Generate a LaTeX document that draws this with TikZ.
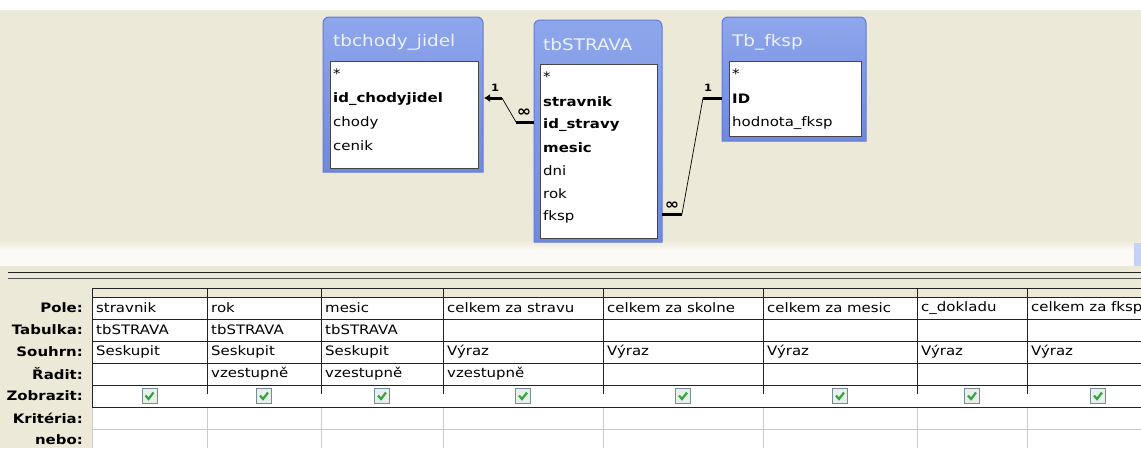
\documentclass[tikz,border=0pt]{standalone}
\usepackage{fontspec}
\setmainfont[FakeStretch=1.15]{DejaVu Sans}
\usetikzlibrary{arrows.meta, positioning}
\definecolor{xpbeige}{RGB}{236,233,216}
\definecolor{panelwhite}{RGB}{251,250,246}
\definecolor{tabletop}{RGB}{142,166,235}
\definecolor{tablebottom}{RGB}{112,137,222}
\definecolor{tableedge}{RGB}{98,122,212}
\definecolor{titletext}{RGB}{236,241,255}
\definecolor{innerline}{RGB}{70,70,70}
\definecolor{gridline}{RGB}{35,35,35}
\definecolor{gridlight}{RGB}{205,205,200}
\definecolor{checkgreen}{RGB}{50,165,60}
\definecolor{checkfill}{RGB}{232,240,236}
\definecolor{checkedge}{RGB}{120,140,150}
\definecolor{scrollblue}{RGB}{196,210,248}
\tikzstyle{title} = [anchor=west, inner sep=0, text=titletext, font=\fontsize{16}{18}\selectfont]
\tikzstyle{field} = [anchor=west, inner sep=0, font=\fontsize{13}{15}\selectfont]
\tikzstyle{keyfield} = [field, font=\fontsize{13}{15}\selectfont\bfseries]
\tikzstyle{tableframe} = [top color=tabletop, bottom color=tablebottom, draw=tableedge, line width=1pt]
\tikzstyle{fieldlist} = [fill=white, draw=innerline, line width=0.8pt]
\tikzstyle{linkend} = [line width=3pt]
\tikzstyle{linkslope} = [line width=0.7pt]
\tikzstyle{degree} = [inner sep=0, font=\fontsize{10}{10}\selectfont\bfseries]
\tikzstyle{many} = [inner sep=0, font=\fontsize{15}{15}\selectfont\bfseries]
\tikzstyle{rowlabel} = [anchor=east, inner sep=0, font=\fontsize{13}{15}\selectfont\bfseries]
\tikzstyle{cell} = [anchor=west, inner sep=0, font=\fontsize{13}{15}\selectfont]
\tikzstyle{dark} = [draw=gridline, line width=1pt]
\tikzstyle{light} = [draw=gridlight, line width=0.8pt]
\tikzstyle{checkbox} = [draw=checkedge, fill=checkfill, minimum size=15pt, inner sep=0, line width=0.8pt,
                        path picture={\draw[checkgreen, line width=2.2pt]
                          ([shift={(-4pt,0.5pt)}]path picture bounding box.center) --
                          ([shift={(-1pt,-3pt)}]path picture bounding box.center) --
                          ([shift={(4pt,3.5pt)}]path picture bounding box.center);}]

\begin{document}
\begin{tikzpicture}[x=1pt, y=-1pt]
				\useasboundingbox (0, 0) rectangle (1141, 448);

				% background
				\fill[white] (0, 0) rectangle (1141, 10);
				\fill[xpbeige] (0, 10) rectangle (1141, 241);
				\shade[top color=xpbeige, bottom color=panelwhite] (0, 240) rectangle (1141, 250);
				\fill[panelwhite] (0, 250) rectangle (1141, 266);
				\fill[xpbeige] (0, 266) rectangle (1141, 448);
				\fill[scrollblue] (1134, 243) rectangle (1141, 266);
				\draw[gridline, line width=1.5pt] (8, 272.5) -- (1141, 272.5);
				\draw[gridline!80!white, line width=1.5pt] (8, 278.5) -- (1141, 278.5);

				% tbchody_jidel
				\path[tableframe] (323, 172) [rounded corners=6pt] -- (323, 17) -- (483, 17) [sharp corners] -- (483, 172) -- cycle;
				\node (ChodyTitle) [title] at (333, 42) {tbchody\_jidel};
				\path[fieldlist] (330, 61) rectangle (478, 168);
				\node (ChodyStar) [field] at (333, 74) {*};
				\node (ChodyId) [keyfield] at (333, 99) {id\_chodyjidel};
				\node (ChodyChody) [field] at (333, 123) {chody};
				\node (ChodyCenik) [field] at (333, 146) {cenik};

				% tbSTRAVA
				\path[tableframe] (534, 242) [rounded corners=6pt] -- (534, 20) -- (662, 20) [sharp corners] -- (662, 242) -- cycle;
				\node (StravaTitle) [title] at (543, 45) {tbSTRAVA};
				\path[fieldlist] (540, 64) rectangle (657, 238);
				\node (StravaStar) [field] at (543, 77) {*};
				\node (StravaStravnik) [keyfield] at (543, 102) {stravnik};
				\node (StravaId) [keyfield] at (543, 125) {id\_stravy};
				\node (StravaMesic) [keyfield] at (543, 148) {mesic};
				\node (StravaDni) [field] at (543, 171) {dni};
				\node (StravaRok) [field] at (543, 194) {rok};
				\node (StravaFksp) [field] at (543, 217) {fksp};

				% Tb_fksp
				\path[tableframe] (722, 141) [rounded corners=6pt] -- (722, 17) -- (866, 17) [sharp corners] -- (866, 141) -- cycle;
				\node (FkspTitle) [title] at (732, 42) {Tb\_fksp};
				\path[fieldlist] (729, 61) rectangle (861, 136);
				\node (FkspStar) [field] at (732, 74) {*};
				\node (FkspId) [keyfield] at (732, 99) {ID};
				\node (FkspHodnota) [field] at (732, 123) {hodnota\_fksp};

				% tbSTRAVA -> tbchody_jidel
				\coordinate (ChodyKey) at (484, 98);
				\coordinate (ChodyBend) at (502, 98);
				\coordinate (StravaBend) at (516, 122);
				\coordinate (StravaKey) at (534, 122);
				\draw[linkend, -{Latex[length=6pt, width=8pt]}] (ChodyBend) -- (ChodyKey);
				\draw[linkslope] (ChodyBend) -- (StravaBend);
				\draw[linkend] (StravaBend) -- (StravaKey);
				\node (ChodyOne) [degree] at (495, 88) {1};
				\node (StravaMany) [many] at (524, 113) {∞};

				% tbSTRAVA -> Tb_fksp
				\coordinate (FkspKey) at (722, 98);
				\coordinate (FkspBend) at (703, 98);
				\coordinate (StravaFkspBend) at (682, 214);
				\coordinate (StravaFkspKey) at (662, 214);
				\draw[linkend] (FkspBend) -- (FkspKey);
				\draw[linkslope] (FkspBend) -- (StravaFkspBend);
				\draw[linkend] (StravaFkspBend) -- (StravaFkspKey);
				\node (FkspOne) [degree] at (708, 88) {1};
				\node (FkspMany) [many] at (672, 206) {∞};

				% query grid
				\fill[white] (92, 297) rectangle (1141, 448);
				\draw[light] (92, 429) -- (1141, 429);
				\draw[light] (92, 407) -- (92, 448);
				\draw[light] (207, 407) -- (207, 448);
				\draw[light] (321, 407) -- (321, 448);
				\draw[light] (443, 407) -- (443, 448);
				\draw[light] (603, 407) -- (603, 448);
				\draw[light] (763, 407) -- (763, 448);
				\draw[light] (917, 407) -- (917, 448);
				\draw[light] (1027, 407) -- (1027, 448);
				\draw[dark] (92, 288) -- (1141, 288);
				\draw[dark] (92, 297) -- (1141, 297);
				\draw[dark] (92, 319) -- (1141, 319);
				\draw[dark] (92, 341) -- (1141, 341);
				\draw[dark] (92, 363) -- (1141, 363);
				\draw[dark] (92, 385) -- (1141, 385);
				\draw[dark] (92, 407) -- (1141, 407);
				\draw[dark] (92, 288) -- (92, 407);
				\draw[dark] (207, 288) -- (207, 394);
				\draw[dark] (321, 288) -- (321, 394);
				\draw[dark] (443, 288) -- (443, 394);
				\draw[dark] (603, 288) -- (603, 394);
				\draw[dark] (763, 288) -- (763, 394);
				\draw[dark] (917, 288) -- (917, 394);
				\draw[dark] (1027, 288) -- (1027, 394);

				% row labels
				\node (Pole) [rowlabel] at (83, 308) {Pole:};
				\node (Tabulka) [rowlabel] at (83, 330) {Tabulka:};
				\node (Souhrn) [rowlabel] at (83, 352) {Souhrn:};
				\node (Radit) [rowlabel] at (83, 374) {Řadit:};
				\node (Zobrazit) [rowlabel] at (83, 396) {Zobrazit:};
				\node (Kriteria) [rowlabel] at (83, 418) {Kritéria:};
				\node (Nebo) [rowlabel] at (83, 440) {nebo:};

				% stravnik
				\node (StravnikPole) [cell] at (96, 308) {stravnik};
				\node (StravnikTab) [cell] at (96, 330) {tbSTRAVA};
				\node (StravnikSouhrn) [cell] at (96, 352) {Seskupit};
				\node (StravnikShow) [checkbox] at (149.5, 396) {};

				% rok
				\node (RokPole) [cell] at (211, 308) {rok};
				\node (RokTab) [cell] at (211, 330) {tbSTRAVA};
				\node (RokSouhrn) [cell] at (211, 352) {Seskupit};
				\node (RokRadit) [cell] at (211, 374) {vzestupně};
				\node (RokShow) [checkbox] at (264, 396) {};

				% mesic
				\node (MesicPole) [cell] at (325, 308) {mesic};
				\node (MesicTab) [cell] at (325, 330) {tbSTRAVA};
				\node (MesicSouhrn) [cell] at (325, 352) {Seskupit};
				\node (MesicRadit) [cell] at (325, 374) {vzestupně};
				\node (MesicShow) [checkbox] at (382, 396) {};

				% celkem za stravu
				\begin{scope}
					\clip (443, 297) rectangle (599, 319);
					\node (StravuPole) [cell] at (447, 308) {celkem za stravu};
				\end{scope}
				\node (StravuSouhrn) [cell] at (447, 352) {Výraz};
				\node (StravuRadit) [cell] at (447, 374) {vzestupně};
				\node (StravuShow) [checkbox] at (523, 396) {};

				% celkem za skolne
				\node (SkolnePole) [cell] at (607, 308) {celkem za skolne};
				\node (SkolneSouhrn) [cell] at (607, 352) {Výraz};
				\node (SkolneShow) [checkbox] at (683, 396) {};

				% celkem za mesic
				\begin{scope}
					\clip (763, 297) rectangle (900, 319);
					\node (MesicCelkemPole) [cell] at (767, 308) {celkem za mesic};
				\end{scope}
				\node (MesicCelkemSouhrn) [cell] at (767, 352) {Výraz};
				\node (MesicCelkemShow) [checkbox] at (840, 396) {};

				% c_dokladu
				\node (DokladPole) [cell] at (921, 308) {c\_dokladu};
				\node (DokladSouhrn) [cell] at (921, 352) {Výraz};
				\node (DokladShow) [checkbox] at (972, 396) {};

				% celkem za fksp
				\begin{scope}
					\clip (1027, 297) rectangle (1141, 319);
					\node (FkspPole) [cell] at (1031, 308) {celkem za fksp};
				\end{scope}
				\node (FkspSouhrn) [cell] at (1031, 352) {Výraz};
				\node (FkspShow) [checkbox] at (1098, 396) {};
			\end{tikzpicture}
\end{document}
